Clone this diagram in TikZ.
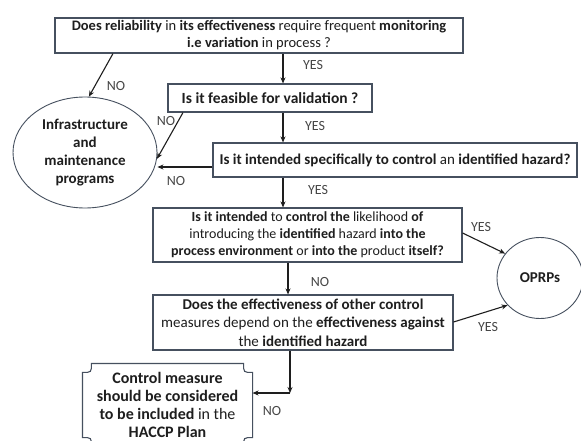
\documentclass[tikz,border=0pt]{standalone}
\usepackage{fontspec}
\setmainfont{Carlito}
\usetikzlibrary{shapes.geometric,arrows.meta}
\definecolor{edge}{RGB}{70,80,95}
\definecolor{ink}{RGB}{30,30,30}
\definecolor{lbl}{RGB}{70,70,70}
\tikzset{
  qbox/.style={draw=edge,line width=1.1pt,rectangle,inner sep=0pt,align=center,text=ink},
  oval/.style={draw=edge,line width=0.9pt,ellipse,inner sep=0pt,align=center,text=ink},
  conn/.style={draw=ink,line width=1.1pt,-{Stealth[length=6pt,width=5pt]}},
  lab/.style={text=lbl,font=\fontsize{14}{16}\selectfont,inner sep=0pt},
}
\begin{document}
\begin{tikzpicture}[x=1pt,y=-1pt]
\useasboundingbox (0,0) rectangle (581,441);
\fill[white] (0,0) rectangle (581,441);
\clip (0,0) rectangle (581,441);

\node[qbox,minimum width=408pt,minimum height=35pt,font=\fontsize{14.5}{17}\selectfont] (b1) at (259,35.5)
  {\textbf{Does reliability} in \textbf{its effectiveness} require frequent \textbf{monitoring}\\ \textbf{i.e variation} in process ?};
\node[qbox,minimum width=204pt,minimum height=28pt,font=\fontsize{15.5}{17}\selectfont] (b2) at (270,98)
  {\textbf{Is it feasible for validation ?}};
\node[qbox,minimum width=364pt,minimum height=34pt,font=\fontsize{15}{17}\selectfont] (b3) at (395,160)
  {\textbf{Is it intended specifically to control} an \textbf{identified hazard?}};
\node[qbox,minimum width=309pt,minimum height=54pt,font=\fontsize{14}{17}\selectfont] (b4) at (307.5,235)
  {\textbf{Is it intended} to \textbf{control the} likelihood \textbf{of}\\ introducing the \textbf{identified} hazard \textbf{into the}\\ \textbf{process environment} or \textbf{into the} product \textbf{itself?}};
\node[qbox,minimum width=300pt,minimum height=55pt,font=\fontsize{15}{18.5}\selectfont] (b5) at (303,322.5)
  {\textbf{Does the effectiveness of other control}\\ measures depend on the \textbf{effectiveness against}\\ the \textbf{identified hazard}};
\node[qbox,draw=none,minimum width=169pt,minimum height=82pt,font=\fontsize{16}{18}\selectfont] (cm) at (167.5,405)
  {\textbf{Control measure}\\ \textbf{should be considered}\\ \textbf{to be included} in the\\ \textbf{HACCP Plan}};
\draw[edge,line width=1.1pt]
  ([xshift=9pt]cm.north west) -- ([xshift=-9pt]cm.north east)
  .. controls ([xshift=-9pt,yshift=-9pt]cm.north east) .. ([yshift=-9pt]cm.north east)
  -- ([yshift=9pt]cm.south east)
  .. controls ([xshift=-9pt,yshift=9pt]cm.south east) .. ([xshift=-9pt]cm.south east)
  -- ([xshift=9pt]cm.south west)
  .. controls ([xshift=9pt,yshift=9pt]cm.south west) .. ([yshift=9pt]cm.south west)
  -- ([yshift=-9pt]cm.north west)
  .. controls ([xshift=9pt,yshift=-9pt]cm.north west) .. ([xshift=9pt]cm.north west) -- cycle;

\node[oval,minimum width=144pt,minimum height=111pt,font=\fontsize{15}{18}\selectfont\bfseries] (infra) at (85,152.5)
  {Infrastructure\\ and\\ maintenance\\ programs};
\node[oval,minimum width=86pt,minimum height=81pt,font=\fontsize{15}{17}\selectfont\bfseries] (oprp) at (540,278) {OPRPs};

\coordinate (xa) at (283,0);
\coordinate (xb) at (288,0);
\coordinate (xc) at (290,0);
\coordinate (xd) at (113,0);
\coordinate (xe) at (183,0);
\coordinate (yh) at (0,167);
\coordinate (yo) at (0,233);
\coordinate (yp) at (0,322);
\coordinate (yq) at (0,393);
\coordinate (turn) at (290,393);

\draw[conn] (b1.south -| xa) -- (b2.north -| xa);
\draw[conn] (b2.south -| xa) -- (b3.north -| xa);
\draw[conn] (b3.south -| xa) -- (b4.north -| xa);
\draw[conn] (b4.south -| xb) -- (b5.north -| xb);
\draw[conn] (b5.south -| xc) -- (turn);
\draw[conn] (turn) -- (cm.east |- yq);

\draw[conn] (b1.south -| xd) -- (infra.86);
\draw[conn] (b2.south -| xe) -- (infra.-5);
\draw[conn] (b3.west |- yh) -- (infra.east |- yh);

\draw[conn] (b4.east |- yo) -- (oprp.145);
\draw[conn] (b5.east |- yp) -- (oprp.220);

\node[lab] (l1) at (313,65) {YES};
\node[lab] (l2) at (315,126) {YES};
\node[lab] (l3) at (318,190) {YES};
\node[lab] (l4) at (320,282) {NO};
\node[lab] (l5) at (272,411) {NO};
\node[lab] (l6) at (116,86) {NO};
\node[lab] (l7) at (166,121) {NO};
\node[lab] (l8) at (176,181) {NO};
\node[lab] (l9) at (481,227) {YES};
\node[lab] (l10) at (488,327) {YES};
\end{tikzpicture}
\end{document}
